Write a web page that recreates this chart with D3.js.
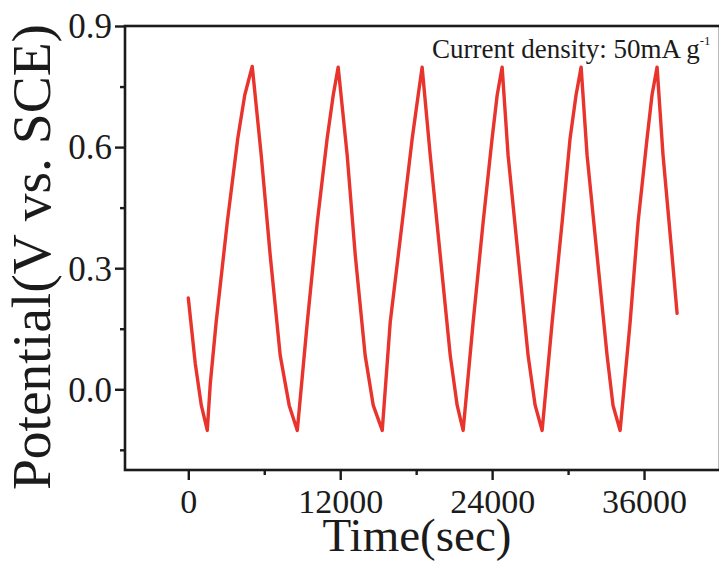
<!DOCTYPE html>
<html lang="en">
<head>
    <meta charset="utf-8">
    <title>GCD curve</title>
    <script src="https://d3js.org/d3.v7.min.js"></script>
    <style type="text/css">
        body{
            margin: 0;
            background: #fff;
        }
        svg text{
            font-family: "Liberation Serif", "Times New Roman", serif;
            fill: #1b1b1b;
        }
    </style>
</head>
<body>
    <svg id="chart" width="719" height="562"></svg>

    <script type="text/javascript">

        // charge/discharge curve
        const time = [0, 550, 1030, 1500,
            1740, 2200, 3080, 3910, 4460, 5050,
            5760, 6470, 7260, 7970, 8610,
            9400, 10190, 10970, 11450, 11840,
            12550, 13190, 13970, 14610, 15320,
            15950, 16900, 17690, 18160, 18470,
            19110, 19900, 20690, 21240, 21710,
            22500, 23290, 24000, 24400, 24790,
            25260, 26050, 26840, 27400, 27950,
            28740, 29530, 30160, 30630, 31030,
            31500, 32290, 33080, 33550, 34110,
            34900, 35530, 36240, 36630, 37030,
            37500, 38210, 38610];
        const potential = [0.226, 0.064, -0.040, -0.102,
            0.015, 0.166, 0.414, 0.622, 0.729, 0.800,
            0.580, 0.332, 0.084, -0.040, -0.102,
            0.166, 0.414, 0.622, 0.729, 0.798,
            0.580, 0.332, 0.084, -0.040, -0.102,
            0.166, 0.414, 0.622, 0.729, 0.798,
            0.580, 0.332, 0.084, -0.040, -0.102,
            0.166, 0.414, 0.622, 0.729, 0.798,
            0.580, 0.332, 0.084, -0.040, -0.102,
            0.166, 0.414, 0.622, 0.729, 0.798,
            0.580, 0.332, 0.084, -0.040, -0.102,
            0.166, 0.414, 0.622, 0.729, 0.798,
            0.580, 0.332, 0.188];

        const xTicks = [0, 12000, 24000, 36000];
        const xMinorTicks = [6000, 18000, 30000, 42000];
        const yTicks = [0, 0.3, 0.6, 0.9];
        const yMinorTicks = [-0.15, 0.15, 0.45, 0.75];
        const yTickLabels = ["0.0", "0.3", "0.6", "0.9"];

        const svg = d3.select("#chart");
        const mLeft = 125, mTop = 26, mRight = 720, mBottom = 470;

        const x = d3.scaleLinear()
            .domain([-5000, 42000])
            .range([mLeft, mRight]);

        const y = d3.scaleLinear()
            .domain([-0.2, 0.9])
            .range([mBottom, mTop]);

        // curve
        const pts = time.map((t, i) => [t, potential[i]]);
        svg.append("path")
            .datum(pts)
            .attr("fill", "none")
            .attr("stroke", "#e8342c")
            .attr("stroke-width", 3.4)
            .attr("stroke-linejoin", "round")
            .attr("stroke-linecap", "round")
            .attr("d", d3.line().x(d => x(d[0])).y(d => y(d[1])));

        // x axis
        const xAxis = svg.append("g")
            .attr("transform", `translate(0,${mBottom})`)
            .call(d3.axisBottom(x).tickValues(xTicks).tickSize(10).tickFormat(d3.format("d")));
        xAxis.selectAll("text")
            .attr("y", 43).attr("dy", null)
            .style("font-size", "34px");
        svg.append("g")
            .attr("transform", `translate(0,${mBottom})`)
            .call(d3.axisBottom(x).tickValues(xMinorTicks).tickSize(5).tickFormat(""));

        // y axis
        const yAxis = svg.append("g")
            .attr("transform", `translate(${mLeft},0)`)
            .call(d3.axisLeft(y).tickValues(yTicks).tickSize(10).tickPadding(3)
                .tickFormat((d, i) => yTickLabels[i]));
        yAxis.selectAll("text")
            .attr("dy", "0.34em")
            .style("font-size", "35px");
        svg.append("g")
            .attr("transform", `translate(${mLeft},0)`)
            .call(d3.axisLeft(y).tickValues(yMinorTicks).tickSize(5).tickFormat(""));

        svg.selectAll(".domain").remove();
        svg.selectAll(".tick line")
            .attr("stroke", "#1b1b1b")
            .attr("stroke-width", 2.4);

        // frame
        svg.append("rect")
            .attr("x", mLeft)
            .attr("y", mTop)
            .attr("width", mRight - mLeft)
            .attr("height", mBottom - mTop)
            .attr("fill", "none")
            .attr("stroke", "#1b1b1b")
            .attr("stroke-width", 2.6);

        // titles
        svg.append("text")
            .attr("x", 417)
            .attr("y", 551)
            .attr("text-anchor", "middle")
            .style("font-size", "47px")
            .text("Time(sec)");

        svg.append("text")
            .attr("transform", "translate(50,257) rotate(-90)")
            .attr("text-anchor", "middle")
            .style("font-size", "55.5px")
            .text("Potential(V vs. SCE)");

        const note = svg.append("text")
            .attr("x", 432)
            .attr("y", 58)
            .style("font-size", "27px");
        note.append("tspan").text("Current density: 50mA g");
        note.append("tspan")
            .attr("dy", -13)
            .style("font-size", "13px")
            .text("-1");

    </script>
</body>
</html>
